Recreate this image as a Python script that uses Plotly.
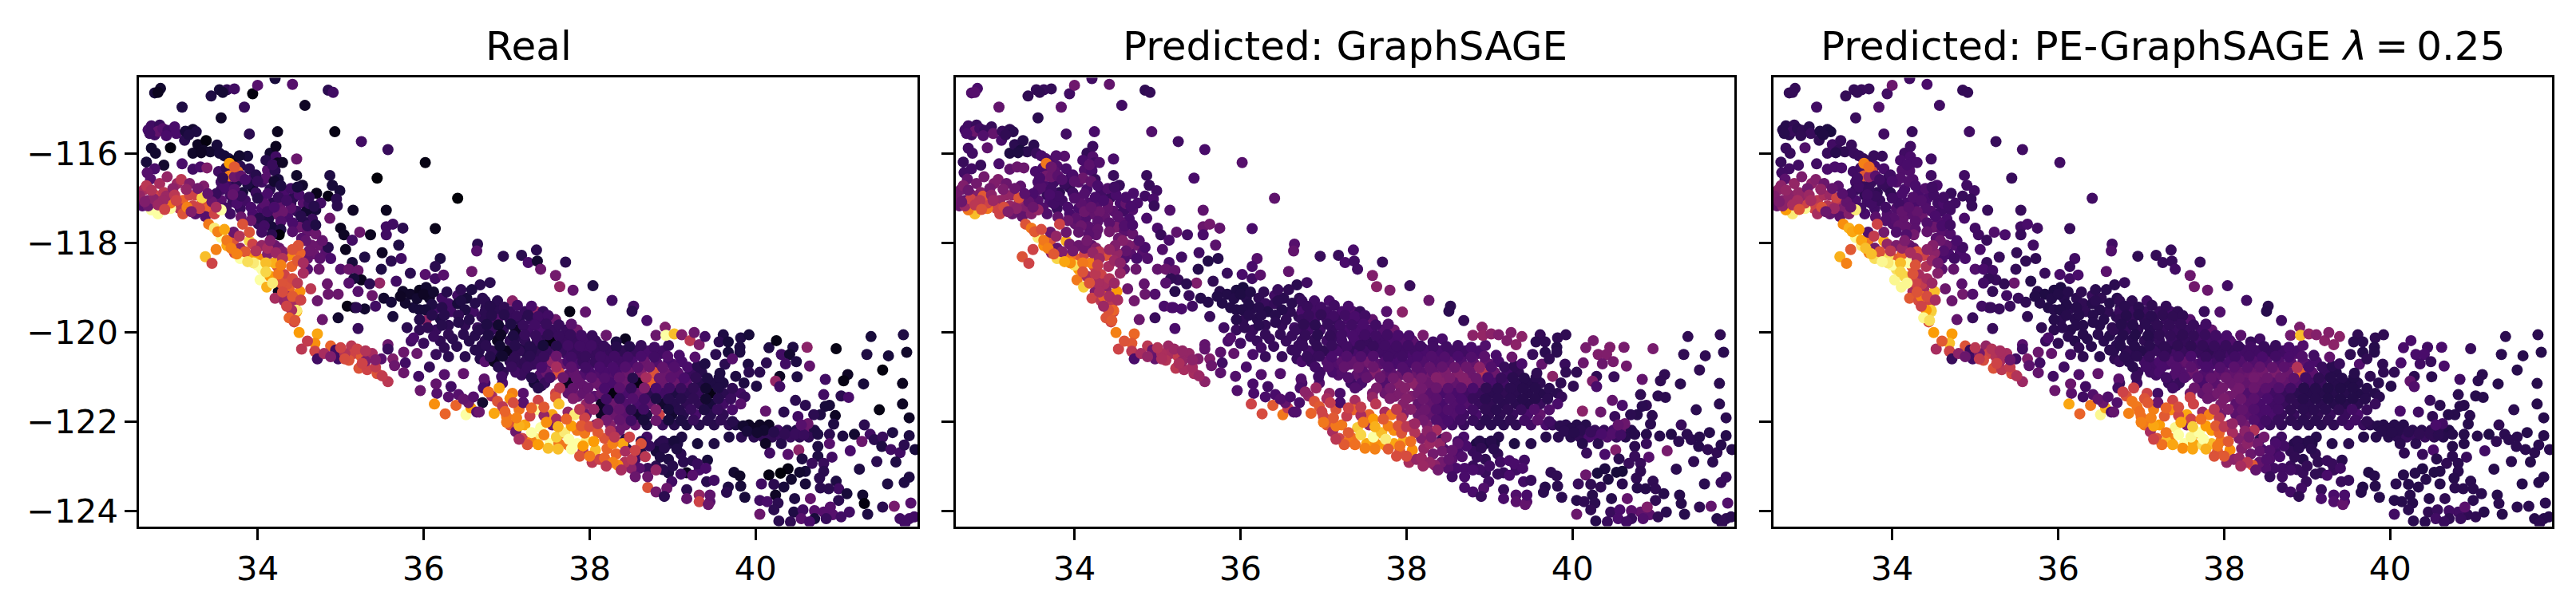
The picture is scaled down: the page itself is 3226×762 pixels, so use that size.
import plotly.graph_objects as go

# every point: (latitude, longitude, real, graphsage, pe_graphsage), colours in % of the inferno range
top_scatter = [
(32.76,-114.64,10,24,17),(32.83,-114.54,8,22,17),(32.80,-114.63,5,25,17),(33.09,-114.96,12,28,20),(33.44,-114.71,12,16,17),
(33.54,-114.57,10,17,17),(33.63,-114.57,16,18,18),(33.72,-114.55,20,17,18),(33.58,-114.63,9,16,17),(33.94,-114.66,2,20,20),(34.00,-114.47,25,31,30),
(34.21,-114.32,10,20,20),(34.42,-114.45,25,28,22),(34.85,-114.58,15,16,17),(34.91,-114.63,20,17,17),(34.57,-114.92,6,20,20),
(33.84,-114.96,18,27,24),(33.56,-115.20,7,15,18),(33.90,-115.56,15,20,20),(34.24,-115.51,5,22,18),(34.93,-115.51,3,24,20),
(35.25,-115.73,20,20,18),(35.57,-115.91,18,22,20),(36.02,-116.20,3,25,20),(35.44,-116.55,1,22,18),(36.41,-117.00,1,27,20),
(36.14,-117.68,4,22,18),
]
inland = [
(32.68,-115.47,22,20,14),(32.72,-115.38,20,20,14),(32.76,-115.58,20,20,15),(32.82,-115.36,18,18,16),(32.80,-115.50,28,30,18),
(32.86,-115.44,25,20,15),(32.92,-115.48,20,18,16),(33.00,-115.40,22,18,15),(33.02,-115.55,22,28,18),(33.12,-115.70,15,22,16),
(33.13,-115.50,10,18,12),(33.22,-115.46,8,16,12),(33.26,-115.51,12,15,11),(32.72,-115.88,8,20,18),(32.77,-115.99,8,20,18),
(32.95,-115.87,2,27,24),(32.66,-116.19,10,18,18),(32.87,-116.26,8,18,20),(33.09,-116.23,22,22,20),(33.22,-116.35,20,27,22),
(33.31,-116.30,22,30,22),(33.39,-116.32,35,30,22),(32.76,-116.34,22,20,20),(32.67,-116.43,25,20,20),(32.71,-116.57,25,28,26),
(33.22,-115.99,7,12,18),(33.28,-115.80,6,15,20),(33.38,-115.71,2,14,18),(33.35,-115.93,7,11,17),(33.43,-115.96,8,15,16),
(33.51,-115.81,10,15,18),(33.54,-115.99,10,18,18),(33.65,-116.11,12,24,18),(33.71,-116.16,5,22,18),(33.88,-116.06,10,25,18),
(33.79,-116.28,15,24,22),(33.90,-116.34,15,22,22),(33.53,-116.40,20,22,20),(34.15,-115.99,8,17,20),(34.22,-115.84,5,19,20),
(34.22,-116.07,20,24,22),(34.24,-116.21,5,20,22),(34.12,-116.37,25,24,24),(34.21,-116.39,15,22,24),(34.25,-116.58,10,18,24),
(34.47,-116.12,30,22,20),(34.47,-116.49,7,18,20),(34.87,-116.49,12,18,20),(34.90,-116.71,10,18,20),(34.54,-116.71,8,18,22),
(34.99,-116.83,10,20,20),(34.71,-116.89,4,22,18),(34.85,-116.95,3,20,18),(34.95,-117.02,15,22,18),(34.96,-117.17,15,18,18),
(35.15,-117.27,6,24,18),(35.55,-117.27,5,27,18),(34.87,-117.45,30,22,22),(34.70,-117.26,10,24,20),(34.76,-117.11,20,22,20),
(32.70,-115.55,20,22,14),(32.90,-115.60,22,24,16),(33.17,-115.58,12,16,12),(33.32,-115.98,6,12,14),(33.60,-116.05,10,22,18),
(33.78,-116.05,8,24,18),(34.10,-116.15,14,22,22),(34.18,-116.25,18,26,22),(34.30,-116.20,6,24,22),(33.62,-116.32,16,22,20),
]
la_band = [
(32.63,-116.81,45,32,38),(32.68,-117.05,35,28,36),(32.76,-116.93,55,35,38),(32.82,-116.67,45,32,40),(32.91,-116.52,40,32,34),
(33.03,-116.67,42,35,38),(33.08,-116.58,50,35,36),(33.18,-116.67,35,30,30),(33.35,-116.73,35,27,26),(32.87,-116.87,50,36,40),
(32.95,-116.99,45,36,42),(33.10,-117.05,65,40,50),(33.18,-116.93,55,40,46),(33.25,-116.93,55,40,42),(33.33,-117.11,60,42,48),
(33.41,-117.23,65,35,34),(33.22,-117.17,55,40,48),(33.06,-117.23,50,55,55),(32.95,-117.23,100,70,98),(32.80,-117.35,100,85,95),
(32.72,-117.26,100,70,78),(32.61,-117.17,25,30,30),(32.68,-117.17,30,42,38),(33.25,-117.35,25,30,28),(33.37,-117.41,25,28,26),
(33.48,-117.35,55,36,36),(33.56,-117.26,100,40,95),(33.33,-116.99,90,60,55),(33.10,-117.35,60,55,45),(32.95,-117.11,70,55,55),
(32.75,-117.02,38,55,38),(32.90,-116.95,42,62,40),
(32.58,-116.95,40,32,35),(32.66,-116.72,50,35,38),(32.72,-116.82,48,30,40),(32.86,-117.05,42,50,45),(32.98,-116.78,38,32,32),
(33.00,-116.93,50,38,42),(33.14,-116.80,40,34,40),(33.28,-116.78,32,30,28),(33.30,-117.23,55,38,42),(33.15,-117.20,72,58,60),
(33.02,-117.05,55,42,45),(32.80,-117.15,42,50,45),(32.88,-117.25,55,60,60),(33.45,-117.08,30,28,28),(33.50,-117.20,45,30,28),
(32.64,-117.08,35,30,34),(33.20,-117.30,35,35,30),(33.40,-116.90,28,26,25),
]
hills = [
(33.56,-116.64,20,22,20),(33.63,-116.70,20,22,18),(33.75,-116.64,15,20,18),(33.56,-116.81,20,24,18),(33.67,-116.93,20,18,16),
(33.82,-116.87,10,16,16),(33.94,-116.76,8,16,18),(34.05,-116.64,20,26,24),(34.05,-116.99,20,26,20),(34.17,-117.11,15,24,22),
(34.32,-116.87,22,20,22),(34.28,-117.11,28,24,22),(34.43,-116.99,15,18,22),(34.55,-117.11,25,22,20),(34.47,-117.29,18,26,24),
(34.59,-117.29,8,20,20),(34.66,-117.47,18,22,22),(34.55,-117.52,14,26,24),(34.36,-117.41,22,28,30),(34.21,-117.35,30,28,26),
(34.05,-117.23,22,22,24),(34.13,-117.47,12,24,28),(34.01,-117.58,18,28,24),(34.17,-117.64,10,26,28),(33.94,-117.35,22,22,24),
(33.79,-117.23,18,18,20),(33.67,-117.35,20,24,22),(33.56,-117.05,25,24,22),(33.66,-116.22,78,70,72),
(33.76,-116.40,70,26,60),(33.66,-116.50,72,32,62),(33.72,-116.52,30,30,40),(33.80,-116.50,28,26,26),(33.95,-116.55,20,20,18),
(33.85,-117.05,20,20,18),(34.15,-116.80,15,22,22),(34.10,-116.55,25,30,24),(33.98,-116.48,14,22,20),(34.20,-116.62,8,28,24),
(34.02,-117.45,14,26,25),(33.70,-117.08,18,22,20),(34.40,-117.12,16,30,22),(34.62,-117.12,18,28,22),
(34.50,-117.65,30,34,30),(34.60,-117.75,28,26,26),(34.70,-117.80,30,28,24),(34.75,-118.05,30,32,24),(34.68,-118.25,30,26,22),
(34.60,-118.35,28,24,22),(34.82,-118.22,25,25,22),(34.88,-118.35,22,24,22),(34.65,-118.05,30,34,28),(34.53,-117.90,25,30,26),
(34.85,-118.10,14,22,20),
(33.60,-116.75,22,24,20),(33.72,-116.80,25,20,18),(33.88,-116.68,12,18,18),(33.98,-116.88,18,20,16),(34.12,-116.90,22,24,22),
(34.08,-117.12,25,26,20),(34.25,-116.98,18,22,24),(34.40,-116.78,20,24,24),(34.50,-116.92,22,22,20),(34.62,-116.98,16,22,20),
(34.68,-117.18,14,22,20),(34.40,-117.22,26,28,24),(34.30,-117.30,30,30,28),(34.12,-117.30,20,30,28),(33.92,-117.20,22,22,20),
(33.75,-117.12,22,20,20),(33.62,-117.22,20,24,20),(33.80,-117.42,30,28,26),(33.92,-117.50,30,30,24),(34.08,-117.62,20,30,28),
(34.28,-117.52,24,26,26),(34.42,-117.55,22,26,24),(34.28,-117.70,12,28,26),(34.42,-117.75,25,32,28),(34.60,-117.62,18,24,22),
(34.70,-117.60,12,22,20),(34.78,-117.95,28,24,22),(34.58,-117.95,28,36,30),(34.62,-118.18,30,28,24),(34.75,-118.35,26,22,20),
(33.80,-116.95,18,20,18),(34.00,-117.00,14,24,20),(34.20,-117.20,22,28,26),(34.35,-117.05,20,22,24),(34.52,-117.40,14,26,22),
(33.70,-116.92,28,22,20),(33.50,-116.90,18,22,20),(34.28,-116.72,12,22,22),(34.00,-116.62,18,26,22),(33.85,-116.58,22,24,20),
(34.48,-116.75,10,20,20),(33.72,-116.30,62,30,68),(33.58,-116.55,16,22,20),
]
coast = [
(33.41,-117.58,70,60,75),(33.48,-117.67,95,70,82),(33.56,-117.88,100,95,98),(33.63,-118.06,80,75,95),(33.79,-118.35,100,90,92),
(33.90,-117.96,90,82,82),(33.37,-118.31,85,60,82),(33.45,-118.46,55,55,72),(34.01,-118.34,75,62,62),(34.38,-118.28,75,60,55),
(34.05,-118.59,100,78,92),(34.03,-118.83,100,70,98),(34.11,-118.99,82,88,98),(34.32,-118.71,55,55,45),(34.41,-118.53,65,45,48),
(34.51,-118.23,65,40,38),(34.49,-118.06,60,35,36),(34.26,-117.82,1,28,32),(34.21,-118.06,30,28,30),(33.94,-118.03,55,32,40),
(33.71,-117.94,60,60,70),(33.63,-117.94,70,70,80),(33.79,-118.12,40,28,32),(34.05,-118.06,40,30,34),(34.17,-117.82,15,26,24),
(33.90,-117.76,60,30,32),(33.82,-117.58,60,55,55),(33.71,-117.76,30,30,24),(34.05,-117.76,20,28,24),(34.26,-118.12,30,36,28),
(34.24,-118.53,60,58,62),(34.25,-119.09,5,35,45),(34.21,-119.24,45,55,62),(34.32,-119.30,40,50,58),(34.45,-119.36,45,50,55),
(34.64,-119.03,50,30,30),(34.51,-119.09,75,78,85),(34.38,-119.03,65,38,45),(34.36,-118.92,60,45,52),(34.47,-119.51,95,65,88),
(34.41,-119.51,45,60,78),(34.38,-119.68,65,60,98),(34.45,-119.74,60,62,92),(34.72,-119.30,30,32,30),(34.74,-118.59,30,30,28),
(34.60,-118.59,25,28,26),(34.55,-118.68,45,40,36),(34.84,-118.92,30,28,26),(34.85,-119.15,30,30,32),(34.97,-119.15,30,24,24),
(34.15,-118.75,78,45,90),(34.28,-118.90,60,45,55),(34.20,-118.45,82,72,100),(34.00,-118.50,100,92,100),(34.12,-118.25,35,55,65),
(33.95,-118.30,78,68,92),(34.35,-119.20,42,65,72),(34.30,-118.20,35,50,60),
(33.52,-117.75,72,62,80),(33.60,-117.70,80,58,78),(33.72,-118.22,58,40,72),(33.85,-118.20,62,35,60),(33.98,-118.18,48,32,50),
(34.12,-118.12,45,30,40),(34.22,-118.22,42,40,45),(34.30,-118.35,48,42,45),(34.42,-118.15,60,40,38),(34.48,-118.40,62,42,42),
(33.68,-118.12,72,72,85),(33.75,-118.25,72,62,85),(33.95,-118.45,95,75,95),(34.10,-118.45,85,70,85),(34.10,-118.65,90,60,90),
(34.25,-118.70,70,50,60),(34.18,-118.90,95,60,98),(34.30,-119.10,58,45,60),(34.42,-118.80,58,48,45),(34.48,-118.90,50,42,42),
(33.50,-118.15,72,55,62),(33.88,-118.42,92,80,98),(33.78,-117.85,48,40,52),(34.15,-117.95,35,32,34),(34.55,-118.45,45,38,32),
(34.35,-119.42,55,42,55),(34.42,-119.20,62,45,58),(34.28,-118.50,72,52,60),(34.52,-119.28,55,45,45),
]
central_coast = [
(34.47,-119.54,80,55,90),(34.44,-119.77,55,55,58),(34.50,-120.01,78,72,78),(34.72,-120.04,80,66,78),(34.78,-119.72,30,30,28),
(34.69,-120.25,75,62,85),(34.53,-120.38,50,55,45),(34.69,-120.43,55,50,55),(34.88,-120.31,65,50,60),(34.94,-120.40,20,30,18),
(34.72,-120.60,20,22,18),(34.97,-120.60,20,28,20),(35.13,-120.31,50,42,40),(35.16,-120.48,55,45,55),(35.10,-120.63,60,48,58),
(35.22,-120.81,60,50,60),(35.38,-120.48,45,40,45),(35.32,-120.84,55,45,50),(35.44,-120.93,60,45,58),(35.57,-121.11,50,38,42),
(35.49,-120.60,25,35,20),(35.63,-120.60,35,35,35),(35.57,-120.28,30,28,25),(35.76,-120.45,30,26,30),(35.78,-120.69,20,20,20),
(35.76,-120.91,30,26,28),(35.21,-119.92,18,22,18),(35.94,-120.99,20,24,20),(36.07,-120.78,17,22,20),(35.92,-120.48,30,28,28),
(35.96,-121.31,30,24,30),(36.16,-121.37,25,22,26),(36.15,-121.16,28,22,30),(36.25,-120.95,25,24,24),(36.48,-120.93,28,24,28),
(36.33,-121.22,20,20,20),(36.42,-121.40,25,22,24),(36.73,-121.05,27,24,26),(36.94,-121.00,20,20,18),(36.13,-121.61,75,55,80),
(36.39,-121.64,65,62,70),(36.26,-121.83,65,58,65),(36.51,-121.85,100,70,98),(36.57,-121.70,78,52,82),(36.64,-121.79,25,24,22),
(36.54,-121.58,30,28,30),(35.88,-120.13,22,24,22),(35.19,-119.45,15,22,18),(35.57,-120.38,18,28,20),
(35.05,-120.48,48,46,32),(35.25,-120.55,62,52,48),(35.30,-120.65,35,40,45),(36.30,-121.45,25,22,20),
(34.60,-120.20,52,60,62),(34.80,-120.48,45,45,38),(34.88,-120.55,35,40,30),(35.00,-120.35,55,48,50),(35.05,-120.60,58,46,52),
(35.20,-120.38,55,42,48),(35.30,-120.42,48,40,45),(35.26,-120.70,55,46,55),(35.42,-120.78,52,44,52),(35.50,-120.98,52,42,48),
(35.42,-120.62,35,38,30),(35.65,-120.75,30,30,26),(36.48,-121.50,28,24,28),(36.60,-121.45,25,22,24),(36.72,-121.25,22,22,20),
]
valley_south = [
(35.00,-117.67,5,22,20),(35.04,-117.82,6,18,20),(35.14,-117.94,20,22,18),(35.06,-118.15,5,24,22),(35.23,-117.76,30,27,24),
(35.36,-117.82,5,20,22),(35.55,-117.64,20,30,20),(35.63,-117.58,20,32,22),(35.75,-117.67,15,28,20),(35.55,-117.82,20,22,18),
(35.70,-118.05,12,26,20),(35.50,-118.22,6,20,17),(35.29,-118.32,12,20,18),(35.14,-118.44,10,22,18),(35.00,-118.59,25,28,24),
(35.10,-118.59,30,30,22),(35.21,-118.62,30,28,20),(35.49,-118.59,12,14,17),(35.61,-118.41,15,13,16),(35.73,-118.35,20,14,16),
(35.84,-118.68,15,18,18),(36.02,-118.71,25,22,22),(36.14,-118.80,20,20,20),(36.24,-118.72,25,26,22),(36.20,-118.35,12,25,20),
(36.14,-118.53,15,22,18),(36.58,-118.64,30,28,26),(36.65,-118.03,15,25,20),(36.64,-118.18,25,28,24),(35.67,-118.86,20,16,14),
(35.47,-118.90,40,35,30),(35.25,-118.83,5,17,18),(35.16,-118.80,10,16,17),(35.35,-118.92,15,15,16),(35.10,-118.90,25,25,20),
(35.21,-119.09,25,14,17),(35.38,-119.18,30,18,20),(35.52,-119.24,8,14,18),(35.61,-119.33,10,14,16),(35.75,-119.09,7,14,14),
(35.08,-119.42,3,22,20),(35.17,-119.45,5,24,20),(35.29,-119.48,8,22,18),(35.42,-119.42,20,20,18),(35.63,-119.65,10,18,16),
(34.97,-119.68,8,18,18),(35.84,-119.15,7,13,12),(35.95,-119.06,5,12,12),(36.03,-119.00,8,11,12),(35.88,-119.45,10,13,13),
(36.07,-119.24,7,14,14),(36.22,-119.24,20,16,15),(36.30,-119.36,20,18,16),(36.41,-119.18,20,20,18),(36.52,-119.24,10,15,16),
(36.71,-119.24,15,16,14),(36.14,-119.48,20,14,15),(36.33,-119.54,20,13,16),(36.60,-119.54,20,16,16),(36.41,-119.36,10,17,14),
(36.68,-118.94,15,15,15),(36.80,-118.89,15,20,18),(36.03,-119.74,40,16,15),(35.95,-119.50,10,13,14),(36.20,-119.70,12,14,14),
(36.50,-119.50,12,14,14),(36.70,-119.65,18,16,15),(36.85,-119.45,12,18,16),
(35.80,-119.90,15,20,16),(35.95,-119.95,16,18,15),(36.15,-119.95,18,18,14),(36.30,-119.85,15,16,14),(36.50,-119.85,16,17,14),
(36.65,-119.90,18,20,16),(35.85,-120.20,20,22,18),(36.00,-120.25,18,20,16),(36.20,-120.20,16,18,14),(36.35,-120.15,15,18,14),
(36.55,-120.20,14,18,15),(36.70,-120.30,15,18,15),(36.15,-120.50,18,22,20),(36.30,-120.55,15,18,16),(36.50,-120.55,15,18,15),
(36.68,-120.60,14,18,16),(36.85,-119.85,18,20,18),(36.90,-120.15,16,20,16),
(35.92,-119.25,8,13,13),(36.00,-119.15,6,12,13),(36.12,-119.10,8,13,14),(36.28,-119.10,14,16,16),(36.45,-119.05,16,18,15),
(36.58,-119.05,12,16,15),(36.10,-119.38,12,13,13),(36.22,-119.45,14,14,14),(36.45,-119.30,12,15,15),(36.62,-119.35,14,15,14),
(36.75,-119.45,14,16,14),(36.02,-119.50,10,13,13),(35.78,-119.35,8,13,14),(35.72,-119.20,6,13,13),(36.10,-119.62,14,14,14),
(36.25,-119.62,14,14,14),(36.42,-119.62,16,14,14),(36.55,-119.72,14,16,14),(36.78,-119.75,16,17,15),(35.95,-119.72,14,14,14),
(36.05,-119.90,16,16,15),(36.22,-119.85,14,15,14),(36.42,-119.78,14,15,14),(36.12,-120.10,18,18,15),(36.30,-120.05,16,17,14),
(36.48,-120.05,15,17,15),(36.62,-120.08,14,18,14),(36.78,-120.00,14,18,15),(36.40,-120.32,15,18,15),(36.62,-120.40,14,18,15),
(36.25,-120.35,16,20,16),
]
valley_mid = [
(36.74,-119.30,15,18,16),(36.89,-119.30,15,20,16),(37.07,-119.30,38,22,20),(36.74,-119.54,15,22,18),(36.89,-119.54,15,20,18),
(37.04,-119.54,18,20,18),(37.22,-119.54,18,22,18),(37.35,-119.54,40,24,20),(37.44,-119.54,18,18,16),(36.74,-119.72,15,18,16),
(36.89,-119.72,25,20,17),(37.04,-119.72,18,20,16),(37.15,-119.72,15,18,16),(37.30,-119.72,18,22,18),(37.44,-119.72,18,20,18),
(37.59,-119.72,30,28,25),(36.67,-119.95,14,18,16),(36.82,-119.95,18,20,17),(36.96,-119.95,16,20,16),(37.11,-119.95,6,18,15),
(37.26,-119.95,20,22,18),(37.41,-119.95,22,22,18),(37.55,-119.95,18,22,18),(37.72,-119.95,18,24,20),(37.85,-119.95,32,32,28),
(36.74,-120.19,14,18,15),(36.89,-120.19,5,16,14),(37.04,-120.19,16,20,16),(37.22,-120.19,16,20,17),(37.37,-120.19,18,22,18),
(37.53,-120.19,2,18,17),(37.68,-120.19,18,20,20),(37.81,-120.19,18,22,20),(37.94,-120.19,20,24,22),(38.07,-120.19,18,26,24),
(38.20,-120.07,30,33,26),(38.43,-120.15,5,22,20),(36.67,-120.42,14,18,15),(36.82,-120.42,16,20,16),(37.00,-120.42,5,16,14),
(37.15,-120.42,16,22,18),(37.30,-120.42,14,18,16),(37.48,-120.42,18,20,18),(37.66,-120.42,18,20,18),(37.81,-120.42,18,20,16),
(37.96,-120.42,20,20,18),(38.10,-120.42,18,20,18),(38.25,-120.42,18,22,20),(38.40,-120.42,16,22,20),(38.55,-120.42,18,20,18),
(38.71,-120.42,22,20,20),(38.88,-120.42,20,22,22),(36.74,-120.66,25,22,18),(36.85,-120.66,5,18,15),(37.04,-120.66,16,24,20),
(37.22,-120.66,16,26,22),(37.37,-120.66,18,28,24),(37.55,-120.66,40,32,28),(37.74,-120.66,22,24,22),(37.92,-120.66,18,22,20),
(38.07,-120.66,18,22,22),(38.21,-120.66,20,24,24),(38.36,-120.66,20,24,24),(38.51,-120.66,22,26,24),(38.66,-120.66,30,24,24),
(38.80,-120.66,24,28,26),(38.95,-120.66,22,28,26),(39.11,-120.66,22,22,22),(36.96,-120.90,16,20,18),(37.11,-120.90,20,22,20),
(37.22,-120.90,18,24,22),(37.48,-120.90,30,26,24),(37.63,-120.90,60,36,30),(37.81,-120.90,28,26,24),(38.00,-120.90,22,24,26),
(38.18,-120.90,22,26,28),(38.32,-120.90,22,28,30),(38.47,-120.90,30,34,32),(38.62,-120.90,35,36,34),(38.77,-120.90,60,30,30),
(38.91,-120.90,30,50,65),(39.06,-120.90,26,30,26),(39.21,-120.90,18,20,18),(39.35,-120.90,14,16,14),(36.74,-121.14,20,22,18),
(36.95,-121.14,24,24,20),(37.33,-121.14,10,20,18),(37.46,-121.14,18,22,18),(37.74,-121.14,5,24,22),(37.88,-121.14,28,36,26),
(38.07,-121.14,30,38,30),(38.25,-121.14,22,30,28),(38.43,-121.14,30,36,30),(38.58,-121.14,3,28,26),(38.73,-121.14,65,36,28),
(38.88,-121.14,30,30,24),(39.02,-121.14,30,22,20),(39.17,-121.14,26,20,18),(39.32,-121.14,14,15,14),(39.46,-121.14,12,14,13),
(39.61,-121.14,12,16,14),(37.20,-121.37,25,22,20),(37.59,-121.37,55,34,30),(37.74,-121.37,28,30,28),(37.92,-121.37,28,34,32),
(38.14,-121.37,30,32,32),(38.29,-121.37,2,26,24),(38.43,-121.37,22,22,24),(38.58,-121.37,28,22,20),(38.73,-121.37,15,20,18),
(38.88,-121.37,20,18,15),(39.02,-121.37,12,15,14),(39.17,-121.37,15,16,14),(39.32,-121.37,18,15,14),(39.46,-121.37,3,14,14),
(39.61,-121.37,15,14,13),(39.82,-121.37,20,15,14),(39.87,-121.45,18,17,15),(38.14,-121.61,6,28,26),(37.96,-121.61,40,36,34),
(38.29,-121.61,30,28,26),(38.43,-121.61,24,22,22),(38.58,-121.61,22,24,20),(38.73,-121.61,28,24,18),(38.88,-121.61,8,18,16),
(39.02,-121.61,14,16,15),(39.17,-121.61,16,15,15),(39.32,-121.61,16,15,14),(39.46,-121.61,10,14,14),(39.61,-121.61,20,18,15),
(39.82,-121.61,25,22,18),(37.96,-121.85,30,34,32),(38.14,-121.85,6,30,26),(38.29,-121.85,30,28,26),(38.43,-121.85,26,22,22),
(38.58,-121.85,8,24,22),(38.69,-121.85,12,20,18),(38.84,-121.85,55,22,18),(38.99,-121.85,8,16,16),(39.13,-121.85,14,16,16),
(39.28,-121.85,22,18,18),(39.46,-121.85,14,22,18),(39.61,-121.85,16,28,22),(38.07,-122.08,28,36,34),(38.25,-122.08,36,34,32),
(38.43,-122.08,30,24,22),(38.55,-122.08,28,20,18),(38.69,-122.08,12,18,17),(38.88,-122.08,18,16,16),(39.02,-122.08,14,15,15),
(39.17,-122.08,12,15,15),(39.32,-122.08,14,16,16),(39.50,-122.08,14,20,20),(39.68,-122.08,16,22,18),(39.76,-122.08,12,18,15),
(39.92,-122.08,6,15,14),(40.05,-122.08,6,14,14),(40.16,-122.08,6,14,14),(40.27,-122.20,20,18,15),(40.38,-122.20,14,18,15),
(40.49,-122.20,14,22,16),(40.60,-122.20,30,28,16),(40.71,-122.20,12,14,13),(38.69,-122.35,20,22,20),(39.11,-122.35,12,14,14),
(39.68,-122.35,12,14,14),(39.83,-122.35,15,15,14),(39.98,-122.35,15,14,14),(40.09,-122.35,16,16,15),(40.20,-122.35,16,22,18),
(40.31,-122.35,18,22,18),(40.42,-122.35,18,24,18),(40.53,-122.35,16,18,16),(40.64,-122.35,16,14,14),(38.84,-122.50,14,12,14),
(38.95,-122.50,12,12,14),(39.06,-122.50,12,12,13),(39.30,-122.50,10,12,14),(39.50,-122.50,12,14,15),(40.31,-122.50,14,15,15),
(40.12,-122.50,6,14,15),
]
valley_fill = [
(36.80,-119.42,14,18,15),(36.97,-119.44,16,20,15),(37.13,-119.40,20,20,16),(37.30,-119.42,22,22,17),(36.82,-119.63,14,18,14),
(36.97,-119.61,14,17,14),(37.12,-119.64,18,20,15),(37.26,-119.62,15,20,16),(37.38,-119.65,20,22,16),(37.50,-119.63,20,20,16),
(36.76,-119.83,12,16,14),(36.90,-119.84,8,15,14),(37.05,-119.82,12,18,15),(37.20,-119.85,18,20,16),(37.34,-119.84,20,20,17),
(37.48,-119.82,18,22,17),(37.63,-119.84,18,20,18),(37.78,-119.82,26,24,20),(36.78,-120.07,12,17,14),(36.93,-120.06,6,15,13),
(37.08,-120.08,12,17,14),(37.22,-120.06,18,20,16),(37.35,-120.08,18,22,17),(37.50,-120.06,16,20,16),(37.63,-120.08,18,20,17),
(37.77,-120.06,18,20,18),(37.90,-120.07,20,22,20),(38.03,-120.08,18,22,22),(38.32,-120.22,12,20,18),(36.75,-120.30,15,18,14),
(36.92,-120.31,8,16,14),(37.10,-120.30,14,18,15),(37.28,-120.32,14,20,16),(37.44,-120.30,10,18,16),(37.60,-120.31,14,18,16),
(37.74,-120.30,20,20,17),(37.88,-120.31,20,20,18),(38.02,-120.30,20,20,18),(38.17,-120.31,18,20,18),(38.32,-120.33,14,20,20),
(38.48,-120.32,14,20,18),(38.62,-120.30,18,20,18),(38.78,-120.34,20,22,22),(38.95,-120.30,18,24,24),(36.80,-120.55,14,18,15),
(36.95,-120.54,8,18,15),(37.10,-120.56,16,22,18),(37.28,-120.54,15,24,18),(37.45,-120.55,18,24,20),(37.60,-120.54,30,24,22),
(37.78,-120.56,20,20,18),(37.95,-120.54,18,20,18),(38.13,-120.55,20,22,20),(38.30,-120.54,20,24,20),(38.46,-120.56,20,24,22),
(38.62,-120.54,22,22,20),(38.78,-120.56,20,24,22),(38.94,-120.54,24,26,24),(39.08,-120.52,22,22,20),(36.90,-120.78,14,20,15),
(37.06,-120.78,18,24,20),(37.25,-120.78,18,28,22),(37.42,-120.79,22,30,24),(37.60,-120.78,45,30,26),(37.78,-120.78,26,24,22),
(37.95,-120.79,20,24,24),(38.12,-120.78,22,26,26),(38.28,-120.79,22,28,26),(38.43,-120.78,24,28,28),(38.58,-120.79,26,30,28),
(38.72,-120.78,30,30,26),(38.88,-120.79,28,38,48),(39.02,-120.78,24,24,22),(39.18,-120.78,22,18,18),(39.30,-120.76,14,16,15),
(37.30,-121.02,14,24,20),(37.52,-121.02,20,28,24),(37.68,-121.02,30,30,26),(37.84,-121.03,28,32,28),(38.02,-121.02,26,34,30),
(38.18,-121.03,24,32,30),(38.36,-121.02,28,36,32),(38.52,-121.03,14,34,30),(38.68,-121.02,45,36,30),(38.84,-121.03,30,30,26),
(38.98,-121.02,26,22,20),(39.14,-121.03,22,18,16),(39.28,-121.02,16,15,14),(39.42,-121.03,12,14,14),(39.56,-121.02,12,15,13),
(37.38,-121.25,14,24,20),(37.64,-121.25,48,34,30),(37.80,-121.26,28,32,30),(37.98,-121.25,28,36,32),(38.18,-121.26,22,32,32),
(38.36,-121.25,26,30,30),(38.50,-121.26,18,26,26),(38.66,-121.25,35,26,24),(38.80,-121.26,22,22,20),(38.96,-121.25,20,16,14),
(39.10,-121.26,18,15,14),(39.25,-121.25,16,15,13),(39.40,-121.26,8,14,13),(39.55,-121.25,12,14,13),(39.72,-121.26,16,15,14),
(37.80,-121.49,35,34,30),(38.00,-121.49,30,36,34),(38.20,-121.50,20,30,30),(38.36,-121.49,18,26,26),(38.52,-121.49,24,24,22),
(38.66,-121.50,20,22,20),(38.80,-121.49,12,18,16),(38.95,-121.50,14,15,14),(39.10,-121.49,14,15,14),(39.25,-121.49,16,15,13),
(39.40,-121.50,8,14,13),(39.55,-121.49,14,14,13),(39.70,-121.50,18,15,14),(38.05,-121.73,40,36,34),(38.22,-121.74,18,30,28),
(38.36,-121.73,28,24,24),(38.50,-121.74,16,24,22),(38.65,-121.73,20,22,20),(38.80,-121.74,35,20,16),(38.95,-121.73,10,16,15),
(39.08,-121.74,14,15,15),(39.22,-121.73,18,16,15),(39.38,-121.74,12,18,16),(39.54,-121.73,18,24,20),(39.72,-121.74,22,24,18),
(38.20,-121.97,32,32,30),(38.36,-121.97,28,24,24),(38.50,-121.98,20,22,20),(38.65,-121.97,10,20,18),(38.80,-121.98,30,18,16),
(38.95,-121.97,10,15,15),(39.10,-121.98,12,15,15),(39.25,-121.97,18,16,16),(39.42,-121.98,14,20,18),(39.58,-121.97,16,26,20),
(39.72,-122.00,14,20,16),(39.85,-122.10,8,15,14),(39.98,-122.16,6,14,14),(40.10,-122.20,8,15,14),(40.22,-122.24,14,18,15),
(39.90,-122.22,10,15,14),(40.02,-122.25,8,14,14),(40.35,-122.28,16,22,16),(40.48,-122.28,18,24,16),(40.58,-122.30,18,20,15),
]
valley_gaps = [
(37.15,-120.10,14,18,15),(37.44,-120.13,16,20,16),(37.72,-120.12,18,20,18),(37.86,-120.26,20,20,18),(38.09,-120.25,18,22,20),
(37.20,-120.36,12,18,15),(37.38,-120.36,14,18,15),(37.56,-120.36,12,18,16),(37.72,-120.36,18,20,16),(37.90,-120.37,20,20,18),
(38.03,-120.37,18,20,18),(38.20,-120.37,18,20,18),(38.34,-120.38,14,20,20),(38.62,-120.37,18,20,20),(38.78,-120.40,22,22,20),
(36.90,-120.47,10,18,15),(37.08,-120.49,14,20,16),(37.24,-120.48,14,22,18),(37.40,-120.50,16,22,20),(37.55,-120.49,24,22,18),
(37.72,-120.49,20,20,18),(37.88,-120.50,18,20,18),(38.04,-120.49,18,22,20),(38.20,-120.49,20,22,22),(38.38,-120.49,18,24,22),
(38.54,-120.49,20,22,20),(38.70,-120.49,24,22,22),(38.86,-120.48,20,24,24),(37.16,-120.72,16,24,20),(37.32,-120.72,18,28,22),
(37.48,-120.73,24,30,26),(37.68,-120.72,30,26,24),(37.85,-120.72,22,22,22),(38.00,-120.73,20,22,22),(38.16,-120.72,20,24,24),
(38.34,-120.72,22,26,26),(38.50,-120.72,24,28,26),(38.66,-120.73,28,28,26),(38.82,-120.72,26,34,40),(39.00,-120.72,24,26,22),
(37.18,-120.96,18,24,20),(37.40,-120.96,24,28,24),(37.56,-120.96,42,30,26),(37.74,-120.96,26,28,24),(37.92,-120.96,24,30,28),
(38.08,-120.96,24,30,28),(38.26,-120.96,24,32,30),(38.42,-120.96,28,34,30),(38.60,-120.96,24,36,32),(38.76,-120.96,50,32,28),
(38.94,-120.96,28,36,40),(39.08,-120.96,24,22,20),(39.24,-120.96,18,16,15),(37.42,-121.20,16,24,20),(37.70,-121.20,22,30,28),
(37.92,-121.20,28,36,30),(38.12,-121.20,26,34,32),(38.30,-121.20,24,30,30),(38.47,-121.20,24,30,28),(38.62,-121.20,20,28,26),
(38.80,-121.20,26,24,22),(39.08,-121.20,22,16,15),(39.40,-121.20,12,14,13),(39.55,-121.19,12,14,13),(37.86,-121.44,32,34,30),
(38.06,-121.44,26,34,32),(38.24,-121.44,14,28,28),(38.38,-121.44,20,24,24),(38.65,-121.44,24,22,18),(38.80,-121.44,16,18,16),
(38.95,-121.43,14,15,14),(39.25,-121.43,16,15,13),(39.70,-121.44,18,15,14),
]
bay = [
(36.71,-121.58,8,22,24),(36.67,-121.79,30,24,28),(37.20,-121.58,25,24,25),(39.10,-122.73,15,16,16),(38.95,-122.85,12,16,14),
(38.88,-122.44,15,14,15),(38.80,-122.67,10,18,16),(39.02,-122.44,10,14,14),(39.13,-122.91,15,20,16),(39.24,-122.88,15,22,18),
(39.42,-122.87,10,20,15),(38.95,-123.15,12,18,18),(39.17,-123.15,5,18,16),(39.10,-123.18,20,18,16),(39.32,-123.09,22,20,18),
(39.24,-123.21,25,22,22),(39.41,-123.35,15,20,18),(39.50,-123.32,20,18,18),(38.99,-123.35,20,20,18),(39.17,-123.53,15,18,18),
(38.70,-123.48,60,22,18),(38.80,-123.58,32,22,20),(38.93,-123.50,30,24,20),(38.90,-123.68,15,18,16),(39.17,-123.73,28,22,22),
(39.32,-123.65,40,24,22),(39.32,-123.80,55,26,24),(39.45,-123.80,25,25,24),(39.43,-123.86,30,28,28),(39.45,-123.65,27,22,22),
(38.43,-122.40,14,18,16),(38.62,-122.45,15,20,18),(38.45,-122.62,14,24,22),(38.62,-122.70,12,22,20),(38.80,-123.00,15,18,18),
(38.55,-122.85,20,26,24),(38.70,-123.05,18,22,20),
(38.90,-122.60,14,16,15),(39.05,-122.62,12,15,15),(38.85,-122.80,12,18,16),(39.00,-123.00,14,20,17),(38.88,-123.08,14,20,18),
(39.30,-122.95,18,22,18),(39.40,-123.05,22,22,20),(38.72,-122.55,18,22,20),(38.60,-123.05,25,22,20),(38.50,-123.05,38,25,24),
(38.42,-122.92,48,32,28),
(36.82,-121.43,45,40,60),(36.78,-121.34,68,38,55),(36.91,-121.25,80,42,55),(37.07,-121.37,72,40,55),(37.04,-121.49,75,45,60),
(36.89,-121.55,60,60,70),(36.95,-121.67,50,62,70),(36.85,-121.82,80,65,72),(37.00,-121.90,70,55,68),(37.15,-121.73,70,60,72),
(37.20,-121.58,25,22,30),(37.38,-121.53,55,45,55),(37.36,-121.74,100,65,75),(37.55,-121.85,80,65,80),(37.45,-121.87,40,45,55),
(37.59,-121.46,60,40,55),(37.63,-121.61,85,50,55),(37.74,-121.79,40,45,42),(37.82,-121.85,95,70,72),(37.94,-121.92,55,50,50),
(37.88,-121.73,50,50,50),(37.04,-122.08,60,62,70),(37.00,-122.02,70,70,72),(37.22,-122.08,80,70,78),(37.11,-122.23,30,45,45),
(37.19,-122.38,55,55,60),(37.35,-122.38,95,68,72),(37.41,-122.14,100,88,98),(37.52,-122.50,100,80,100),(37.63,-122.50,70,75,80),
(37.74,-122.53,70,78,92),(37.85,-122.50,100,80,85),(37.96,-122.44,95,82,70),(37.92,-122.67,50,60,62),(38.07,-122.64,85,75,75),
(38.03,-122.92,50,45,40),(37.85,-122.20,70,75,78),(37.94,-122.26,70,60,65),(37.55,-122.08,30,40,35),(37.66,-122.26,70,85,80),
(38.12,-122.85,55,40,38),(38.21,-122.61,65,40,36),(38.18,-122.38,60,35,35),(38.32,-122.73,65,32,30),(38.34,-122.98,75,38,62),
(38.40,-122.50,80,40,32),(38.43,-122.67,45,32,28),(38.51,-122.85,50,28,24),(38.62,-122.50,60,26,22),(38.67,-122.79,50,24,22),
(38.38,-123.09,45,32,28),(38.55,-123.24,30,20,18),(38.70,-123.24,30,22,20),(38.80,-123.09,40,22,20),(38.36,-122.20,30,45,48),
(37.30,-122.45,72,70,85),(37.45,-122.30,72,90,100),(37.60,-122.35,88,100,98),(37.70,-122.25,95,85,100),(37.50,-122.60,85,72,75),
(37.75,-122.40,100,95,100),(37.30,-122.25,100,62,70),(37.15,-122.10,82,70,80),(37.78,-122.62,100,62,82),(37.60,-121.95,45,78,55),
(36.98,-121.78,65,55,68),(37.08,-121.58,58,52,62),(37.12,-121.92,72,62,72),(37.28,-121.88,55,52,62),(37.30,-121.70,65,55,65),
(37.45,-121.68,62,52,58),(37.48,-122.02,75,70,80),(37.62,-122.12,82,82,88),(37.78,-122.10,78,72,78),(37.72,-121.95,65,62,68),
(37.90,-122.10,62,60,62),(38.00,-122.12,58,50,50),(38.10,-122.25,62,48,45),(38.05,-122.45,78,68,62),(37.92,-122.55,78,68,70),
(38.18,-122.82,65,42,40),(38.28,-122.50,72,42,38),(38.28,-122.92,72,40,50),(38.48,-122.35,55,35,32),(38.10,-122.05,48,42,40),
(38.25,-122.22,48,38,38),(37.25,-122.52,60,62,68),(37.38,-122.52,78,68,80),(37.62,-122.62,85,72,80),(37.88,-122.78,60,58,60),
(38.00,-122.78,70,58,62),(38.20,-123.00,50,42,45),(38.55,-122.65,55,28,24),(38.30,-122.35,50,34,32),(37.15,-122.40,45,50,55),
]
north_edge = [
(36.96,-118.30,15,18,16),(37.18,-118.28,15,18,17),(37.36,-118.16,15,22,18),(37.26,-118.44,22,22,18),(37.37,-118.41,8,20,18),
(37.41,-118.59,30,20,20),(37.71,-118.43,15,18,18),(37.59,-118.73,32,35,30),(37.64,-118.98,40,38,32),(37.80,-119.06,28,35,30),
(38.04,-118.96,12,18,20),(38.27,-119.29,20,30,20),(38.53,-119.42,20,15,15),(38.51,-119.53,15,15,14),(37.76,-119.54,3,25,18),
(37.95,-119.55,28,38,24),(38.69,-119.74,22,17,20),(38.80,-120.07,30,38,32),(38.91,-119.89,35,38,34),(38.92,-120.07,100,40,85),
(39.02,-120.04,85,38,40),(39.11,-120.06,35,35,36),(39.21,-120.19,50,35,38),(39.26,-120.01,30,35,36),(39.32,-120.28,35,38,38),
(39.39,-120.10,20,38,38),(39.61,-120.06,12,17,16),(39.82,-120.13,12,16,16),(39.92,-120.06,10,16,16),(39.56,-120.22,15,15,15),
(39.67,-120.22,10,16,15),(39.81,-120.34,12,14,14),(39.81,-120.45,12,15,14),(39.67,-120.45,10,15,14),(39.52,-120.50,15,18,16),
(39.27,-120.56,25,30,28),(39.39,-120.71,12,22,18),(39.63,-120.72,15,28,24),(39.72,-120.60,25,16,16),(39.91,-120.72,12,18,16),
(40.13,-120.69,15,30,22),(40.16,-120.35,12,33,22),(40.25,-120.19,3,33,22),(40.45,-120.34,12,35,20),(40.31,-120.50,20,35,22),
(40.41,-120.50,8,35,22),(40.49,-120.66,12,33,18),(40.36,-120.71,20,30,20),(40.62,-120.34,38,33,22),(40.65,-120.76,28,32,22),
(40.97,-120.37,3,33,18),(41.39,-120.10,10,16,15),(41.78,-120.06,12,16,15),(41.34,-120.50,12,16,15),(41.60,-120.53,10,16,14),
(41.82,-120.45,7,15,14),(41.53,-120.85,2,16,14),(41.11,-120.95,6,16,15),(41.06,-121.09,3,16,15),(40.84,-121.06,20,28,20),
(41.30,-121.16,10,15,14),(41.77,-121.15,5,15,14),(40.50,-121.00,12,18,15),(40.29,-120.99,6,16,15),(40.24,-121.10,40,35,28),
(40.29,-121.22,20,22,24),(40.05,-120.90,15,16,16),(39.92,-120.90,15,16,16),(39.76,-120.99,12,38,16),(39.86,-121.14,12,16,15),
(40.01,-121.21,12,16,14),(39.57,-120.92,12,16,14),
]
north_scatter = [
(40.82,-121.40,20,16,15),(41.03,-121.43,15,15,14),(41.12,-121.46,22,15,14),(40.48,-121.53,15,28,18),(40.60,-121.64,15,22,15),
(40.89,-121.64,10,16,14),(40.84,-121.66,10,15,14),(41.77,-121.61,6,15,14),(41.49,-121.74,3,15,15),(41.85,-121.92,6,15,14),
(40.96,-121.87,6,15,15),(40.94,-122.06,12,15,14),(40.78,-121.85,12,14,14),(40.70,-121.85,15,15,14),(40.34,-121.79,15,30,20),
(40.12,-121.77,28,38,22),(40.51,-121.89,20,18,16),(40.63,-122.05,30,30,20),(40.55,-122.08,25,28,22),(41.31,-122.08,15,18,16),
(41.65,-122.25,12,14,14),(41.85,-122.32,12,14,14),(41.05,-122.33,12,14,14),(40.89,-122.29,15,14,14),(40.75,-122.29,12,14,14),
(41.19,-122.29,8,13,13),(41.38,-122.29,20,15,15),(41.28,-122.45,30,15,16),(41.43,-122.41,15,15,15),(41.53,-122.35,18,14,15),
(41.52,-122.56,12,14,15),(41.63,-122.63,20,16,15),(41.74,-122.70,20,16,15),(41.79,-122.53,15,14,15),(41.92,-122.63,10,14,15),
(41.14,-122.66,22,33,20),(40.89,-122.50,25,18,14),(40.75,-122.56,12,15,14),(40.52,-122.64,38,35,22),(40.39,-122.74,25,22,18),
(40.17,-122.71,20,18,16),(40.92,-122.80,20,25,18),(40.56,-122.84,12,15,14),(40.75,-122.78,12,18,15),(40.68,-122.94,18,18,16),
(40.82,-122.94,18,18,15),(41.46,-122.90,15,16,15),(41.69,-122.91,12,15,14),(41.25,-123.07,12,15,14),(40.82,-123.12,15,16,15),
(40.60,-123.12,10,10,14),(40.53,-123.14,8,10,13),(40.39,-123.06,3,12,13),(40.30,-123.16,1,11,14),(40.16,-123.20,3,30,14),
(40.43,-123.30,8,12,14),(40.77,-123.27,15,16,14),(40.60,-123.40,10,15,14),(40.97,-123.34,12,16,15),(41.85,-123.25,12,18,14),
(41.79,-123.37,12,18,14),(41.59,-123.40,12,15,14),(40.34,-123.47,10,16,14),(40.22,-123.41,15,16,14),(40.07,-123.40,20,18,15),
(39.82,-123.45,10,15,14),(39.67,-123.47,12,14,13),(39.65,-123.59,15,15,14),(39.87,-123.70,10,15,14),(39.74,-123.14,8,16,13),
(39.81,-123.22,7,16,14),(40.24,-123.65,6,14,14),(40.47,-123.73,12,14,14),(40.66,-123.73,28,28,16),(41.00,-123.51,20,16,15),
(40.88,-123.51,15,14,15),(40.78,-123.49,15,14,15),(41.10,-123.62,10,14,15),(41.00,-123.77,15,16,15),(41.29,-123.65,8,14,14),
(41.31,-123.84,2,14,15),(41.53,-123.92,15,16,15),(41.67,-123.90,33,28,15),(41.87,-123.83,25,24,15),(40.05,-123.77,20,14,14),
(40.14,-123.80,22,16,14),(40.27,-123.83,15,15,14),(40.05,-124.08,30,30,20),(40.22,-123.98,15,16,15),(40.46,-124.03,12,18,16),
(40.28,-124.23,15,14,15),(41.35,-124.08,12,14,14),(41.13,-124.03,20,15,14),(40.93,-124.09,25,26,16),(40.82,-124.03,25,28,20),
(40.71,-124.00,25,26,20),(40.57,-123.98,20,22,18),(40.55,-124.18,25,22,20),(40.71,-124.18,10,18,16),(41.03,-124.14,20,16,16),
(40.90,-123.92,25,35,26),(41.74,-124.18,20,14,14),(41.85,-124.18,20,16,14),(41.91,-124.14,20,15,14),(40.65,-124.25,22,20,18),
(41.80,-124.28,20,16,15),(40.85,-124.18,18,24,18),(40.42,-124.25,16,18,15),
]

titles = ["Real", "Predicted: GraphSAGE", "Predicted: PE-GraphSAGE <i>λ</i>\u2009=\u20090.25"]
x_ticks = [34, 36, 38, 40]
y_ticks = [-116, -118, -120, -122, -124]

points = (top_scatter + valley_south + valley_gaps + valley_mid + valley_fill + north_edge + north_scatter + inland + hills
          + la_band + central_coast + coast + bay)
lat = [p[0] for p in points]
lon = [p[1] for p in points]

# the page body keeps an 8px margin, so the figure starts at (8, 8)
W, H = 3210, 746
panels = [(166, 1141), (1189, 2164), (2213, 3188)]
top, bottom = 90, 656

fig = go.Figure()
annots = []
for i, (x0, x1) in enumerate(panels):
    n = "" if i == 0 else str(i + 1)
    fig.add_trace(go.Scatter(
        x=lat, y=lon, mode="markers", xaxis="x" + n, yaxis="y" + n, hoverinfo="skip",
        marker=dict(size=14, color=[p[2 + i] / 100 for p in points], colorscale="Inferno",
                    cmin=0, cmax=1, line=dict(width=0), opacity=1),
    ))
    axis = dict(showline=True, linecolor="black", linewidth=3.3, mirror=True, showgrid=False, zeroline=False,
                ticks="outside", ticklen=14.6, tickwidth=3.3, tickcolor="black",
                tickfont=dict(family="DejaVu Sans", size=41.7, color="black"))
    fig.update_layout({
        "xaxis" + n: dict(axis, domain=[x0 / W, x1 / W], range=[32.57, 41.95], tickvals=x_ticks, anchor="y" + n),
        "yaxis" + n: dict(axis, domain=[1 - bottom / H, 1 - top / H], range=[-124.35, -114.3], tickvals=y_ticks,
                          showticklabels=i == 0, anchor="x" + n),
    })
    annots.append(dict(text=titles[i], xref="paper", yref="paper", x=(x0 + x1) / 2 / W, y=1 - 50 / H,
                       xanchor="center", yanchor="middle", showarrow=False,
                       font=dict(family="DejaVu Sans", size=50, color="black")))

fig.update_layout(width=W, height=H, autosize=False, margin=dict(l=0, r=0, t=0, b=0), showlegend=False,
                  paper_bgcolor="white", plot_bgcolor="white", annotations=annots)
fig.write_html("out.html")
